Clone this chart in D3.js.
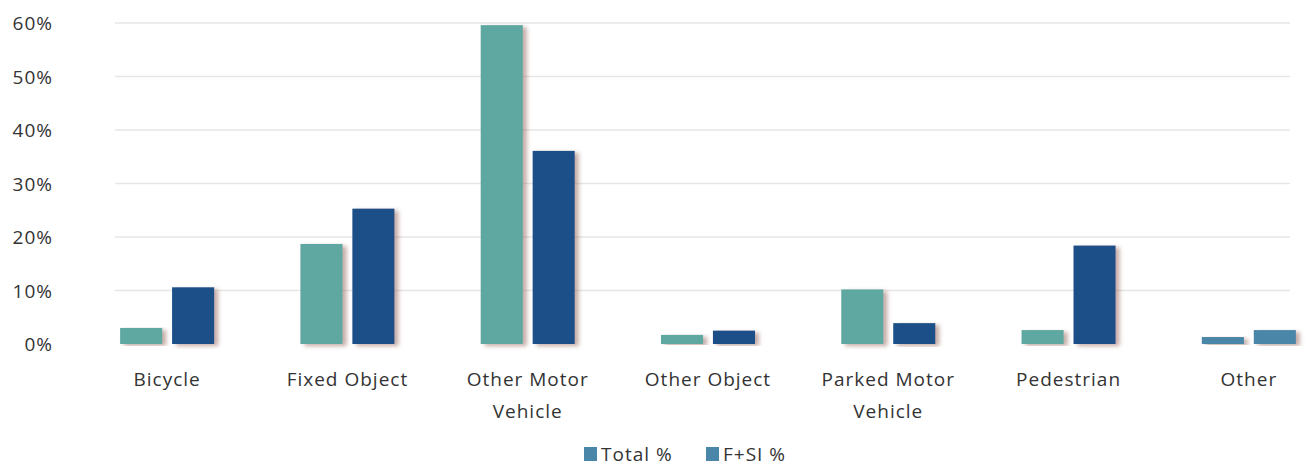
<!DOCTYPE html>
<html>
<head>
<meta charset="utf-8">
<script src="https://cdn.jsdelivr.net/npm/d3@7"></script>
<style>
  body { margin: 0; background: #fff; }
  text { font-family: "Open Sans", sans-serif; fill: #333; letter-spacing: 1px; }
</style>
</head>
<body>
<svg id="chart" width="1309" height="468"></svg>
<script>
// data
const categories = [["Bicycle"], ["Fixed Object"], ["Other Motor", "Vehicle"], ["Other Object"], ["Parked Motor", "Vehicle"], ["Pedestrian"], ["Other"]];
const totalPct = [3.0, 18.7, 59.6, 1.7, 10.2, 2.6, 1.3];
const fsiPct = [10.6, 25.3, 36.1, 2.5, 3.9, 18.4, 2.6];
const seriesNames = ["Total %", "F+SI %"];
const yTicks = [0, 10, 20, 30, 40, 50, 60];

const svg = d3.select("#chart");

// soft shadow like the scanned excel chart
const defs = svg.append("defs");
defs.append("filter").attr("id", "shadow")
  .attr("x", "-20%").attr("y", "-5%").attr("width", "150%").attr("height", "115%")
  .append("feDropShadow")
    .attr("dx", 4).attr("dy", 2).attr("stdDeviation", 2)
    .attr("flood-color", "#8a5a4e").attr("flood-opacity", 0.5);

const colors = ["#5ea8a1", "#1b5088"];
const otherColor = "#4a86a8"; // the "Other" bars come out steel blue

const x = d3.scaleBand()
  .domain(categories.map((d, i) => i))
  .range([77, 1339]);

const xSub = d3.scaleBand()
  .domain([0, 1])
  .range([0, x.bandwidth()])
  .paddingInner(0.19)
  .paddingOuter(0.83);

const y = d3.scaleLinear()
  .domain([0, 60])
  .range([344, 23]);

// gridlines
svg.append("g")
  .selectAll("line")
  .data(yTicks.filter(t => t > 0))
  .enter()
  .append("line")
    .attr("x1", 115).attr("x2", 1290)
    .attr("y1", d => y(d)).attr("y2", d => y(d))
    .attr("stroke", "#e6e6e6").attr("stroke-width", 1.5);

// y axis labels
const yAxis = svg.append("g")
  .attr("transform", "translate(53,0)")
  .call(d3.axisLeft(y).tickValues(yTicks).tickFormat(d => d + "%").tickSize(0).tickPadding(0));
yAxis.select(".domain").remove();
yAxis.selectAll("text")
  .style("font-size", "19px")
  .style("font-family", "Open Sans, sans-serif")
  .attr("fill", "#333")
  .attr("dy", "0.35em");

// bars
const rows = categories.map((c, i) => ({ i: i, vals: [totalPct[i], fsiPct[i]] }));

const groups = svg.append("g")
  .selectAll("g")
  .data(rows)
  .enter()
  .append("g")
    .attr("transform", d => "translate(" + x(d.i) + ",0)");

groups.selectAll("rect")
  .data(d => d.vals.map((v, k) => ({ k: k, v: v, last: d.i === categories.length - 1 })))
  .enter()
  .append("rect")
    .attr("x", d => xSub(d.k))
    .attr("width", xSub.bandwidth())
    .attr("y", d => y(d.v))
    .attr("height", d => y(0) - y(d.v))
    .attr("fill", d => d.last ? otherColor : colors[d.k])
    .attr("filter", "url(#shadow)");

// category labels
const labels = svg.append("g")
  .selectAll("text")
  .data(categories)
  .enter()
  .append("text")
    .attr("text-anchor", "middle")
    .style("font-size", "19px");

labels.selectAll("tspan")
  .data((d, i) => d.map(line => ({ line: line, i: i })))
  .enter()
  .append("tspan")
    .attr("x", d => x(d.i) + x.bandwidth() / 2)
    .attr("y", (d, j) => 386 + j * 32)
    .text(d => d.line);

// legend
const legend = svg.append("g");
const legendX = [584, 706];
seriesNames.forEach((name, k) => {
  legend.append("rect")
    .attr("x", legendX[k]).attr("y", 447)
    .attr("width", 13).attr("height", 14)
    .attr("fill", otherColor);
  legend.append("text")
    .attr("x", legendX[k] + 17).attr("y", 461)
    .style("font-size", "19px")
    .text(name);
});
</script>
</body>
</html>
